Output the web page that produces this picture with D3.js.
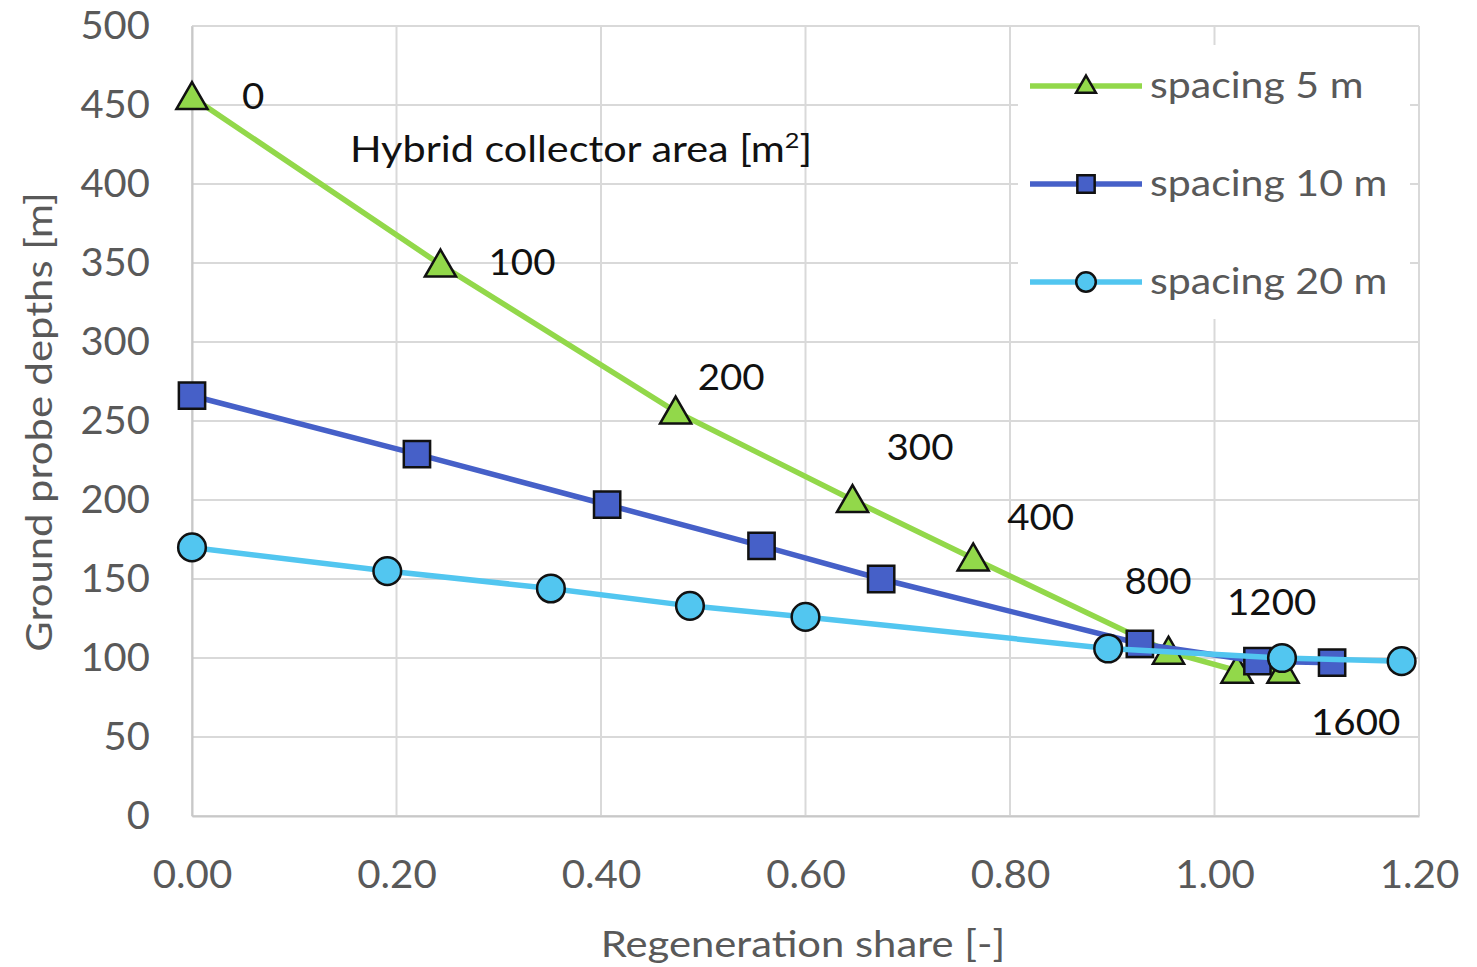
<!DOCTYPE html>
<html>
<head>
<meta charset="utf-8">
<script src="https://cdn.jsdelivr.net/npm/d3@7"></script>
<style>
    body { margin:0; background:#fff; }
    svg text { font-family: Lato, "Open Sans", sans-serif; }
</style>
</head>
<body>
<svg id="chart" width="1477" height="967"></svg>
<script>
// values
var seriesNames = ["spacing 5 m", "spacing 10 m", "spacing 20 m"];
var share5  = [0.000, 0.243, 0.473, 0.646, 0.764, 0.955, 1.022, 1.067];
var depth5  = [455, 349, 256, 200, 163, 104, 92, 92];
var share10 = [0.000, 0.220, 0.406, 0.557, 0.674, 0.927, 1.042, 1.115];
var depth10 = [266, 229, 197, 171, 150, 109, 98, 97];
var share20 = [0.000, 0.191, 0.351, 0.487, 0.600, 0.896, 1.066, 1.183];
var depth20 = [170, 155, 144, 133, 126, 106, 100, 98];
var collectorArea = [0, 100, 200, 300, 400, 800, 1200, 1600];
var xTicks = [0, 0.2, 0.4, 0.6, 0.8, 1.0, 1.2];
var yTicks = [0, 50, 100, 150, 200, 250, 300, 350, 400, 450, 500];

// label placement next to the 5 m points (px)
var labelOffset = [[50,0],[48,-2],[22,-34],[34,-52],[34,-40],[-44,-70],[-10,-68],[28,52]];

var colors = ["#92d84a", "#4660c8", "#52c6f0"];
var shapes = [d3.symbolTriangle, d3.symbolSquare, d3.symbolCircle];
var symSize = [420, 690, 600];

var svg = d3.select("#chart");
var m = {l:192, r:1419, t:26, b:816};

var x = d3.scaleLinear().domain([0, 1.2]).range([m.l, m.r]);
var y = d3.scaleLinear().domain([0, 500]).range([m.b, m.t]);

var series = [share5, share10, share20].map(function(xs, i) {
    var ys = [depth5, depth10, depth20][i];
    return {name: seriesNames[i], pts: xs.map(function(d, j){ return {x:d, y:ys[j]}; })};
});

// text drawn a bit wider than Lato, like the original Calibri picture
function wideText(sel, px, py, sx) {
    return sel.attr("transform", "translate(" + px + "," + py + ") scale(" + sx + ",1)");
}

// grid
var grid = svg.append("g");
grid.selectAll(".gx").data(xTicks).join("line")
    .attr("x1", d=>x(d)).attr("x2", d=>x(d))
    .attr("y1", m.t).attr("y2", m.b)
    .attr("stroke", "#d9d9d9").attr("stroke-width", 2);
grid.selectAll(".gy").data(yTicks).join("line")
    .attr("x1", m.l).attr("x2", m.r)
    .attr("y1", d=>y(d)).attr("y2", d=>y(d))
    .attr("stroke", "#d9d9d9").attr("stroke-width", 2);

// axes
var xAxis = svg.append("g").attr("transform", "translate(0," + m.b + ")")
    .call(d3.axisBottom(x).tickValues(xTicks).tickFormat(d3.format(".2f")).tickSize(0).tickPadding(45));
var yAxis = svg.append("g").attr("transform", "translate(" + m.l + ",0)")
    .call(d3.axisLeft(y).tickValues(yTicks).tickSize(0).tickPadding(42));
[xAxis, yAxis].forEach(function(a) {
    a.select(".domain").attr("stroke", "#c8c8c8").attr("stroke-width", 2);
    a.selectAll("text").attr("fill", "#595959").style("font-size", "38px");
});
xAxis.selectAll("text").attr("transform", "scale(1.06,1)");
yAxis.selectAll("text").attr("transform", "translate(2,0) scale(1.05,1)");

wideText(svg.append("text"), 52, 422, 1.0)
    .attr("transform", "translate(52,422) rotate(-90) scale(1.16,1)")
    .attr("text-anchor", "middle")
    .attr("fill", "#595959").style("font-size", "36px")
    .text("Ground probe depths [m]");
wideText(svg.append("text"), 803, 957, 1.16)
    .attr("text-anchor", "middle")
    .attr("fill", "#595959").style("font-size", "36px")
    .text("Regeneration share [-]");

// legend box sits on top of the grid
var lgX = 1018, lgY = 45;
svg.append("rect").attr("x", lgX).attr("y", lgY).attr("width", 392).attr("height", 274).attr("fill", "#fff");

// lines + markers
var line = d3.line().x(d=>x(d.x)).y(d=>y(d.y));
series.forEach(function(s, i) {
    var g = svg.append("g");
    g.append("path").datum(s.pts).attr("d", line)
        .attr("fill", "none").attr("stroke", colors[i]).attr("stroke-width", 5.5);
    g.selectAll("path.mk").data(s.pts).join("path")
        .attr("class", "mk")
        .attr("transform", d => "translate(" + x(d.x) + "," + (y(d.y) + (i === 0 ? 3 : 0)) + ")")
        .attr("d", d3.symbol().type(shapes[i]).size(symSize[i]))
        .attr("fill", colors[i]).attr("stroke", "#111").attr("stroke-width", 2.5);
});

// collector area labels
svg.append("g").selectAll("text").data(series[0].pts).join("text")
    .attr("transform", (d, j) => "translate(" + (x(d.x) + labelOffset[j][0]) + "," +
        (y(d.y) + labelOffset[j][1] + 12) + ") scale(1.07,1)")
    .attr("fill", "#111").style("font-size", "36px")
    .text((d, j) => collectorArea[j]);

var ann = wideText(svg.append("text"), 350, 162, 1.15).attr("fill", "#111").style("font-size", "36px");
ann.append("tspan").text("Hybrid collector area [m");
ann.append("tspan").attr("dy", -14).style("font-size", "22px").text("2");
ann.append("tspan").attr("dy", 14).text("]");

// legend
var lg = svg.append("g").attr("transform", "translate(" + (lgX + 12) + "," + (lgY + 41) + ")");
var rows = lg.selectAll("g").data(series).join("g")
    .attr("transform", (d, i) => "translate(0," + i * 98 + ")");
rows.append("line").attr("x1", 0).attr("x2", 112)
    .attr("stroke", (d, i) => colors[i]).attr("stroke-width", 5.5);
rows.append("path")
    .attr("transform", (d, i) => "translate(56," + (i === 0 ? 1 : 0) + ")")
    .attr("d", (d, i) => d3.symbol().type(shapes[i]).size(i === 0 ? 170 : 300)())
    .attr("fill", (d, i) => colors[i]).attr("stroke", "#111").attr("stroke-width", 2.5);
rows.each(function() {
    wideText(d3.select(this).append("text"), 120, 12, 1.14)
        .attr("fill", "#595959").style("font-size", "36px")
        .text(d => d.name);
});
</script>
</body>
</html>
